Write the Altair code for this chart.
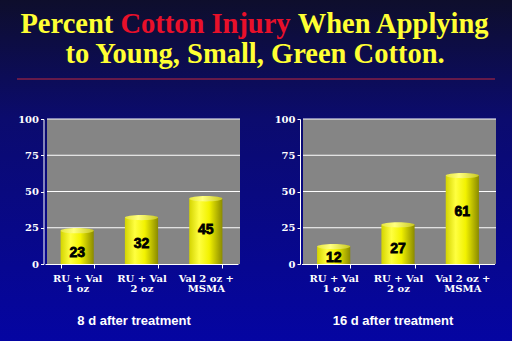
import altair as alt
import pandas as pd

# ---------------- data ----------------
categories = ["RU + Val\n1 oz", "RU + Val\n2 oz", "Val 2 oz +\nMSMA"]
injury_8d = [23, 32, 45]
injury_16d = [12, 27, 61]
y_ticks = [0, 25, 50, 75, 100]
grid_values = [25, 50, 75, 100]
panel_titles = ["8 d after treatment", "16 d after treatment"]
title_line1 = ["Percent", "Cotton Injury", "When Applying"]
title_line2 = "to Young, Small, Green Cotton."

W, H = 512, 341
YELLOW = "#ffff33"
RED = "#e8102a"
AXFONT = "DejaVu Serif"

Y_SCALE = alt.Scale(domain=[0, 100], range=[264, 119], nice=False, zero=True)

bar_fill = alt.Gradient(
    gradient="linear", x1=0, x2=1, y1=0, y2=0,
    stops=[
        alt.GradientStop(offset=0, color="#d4d400"),
        alt.GradientStop(offset=0.3, color="#ffff40"),
        alt.GradientStop(offset=0.6, color="#f2f200"),
        alt.GradientStop(offset=1, color="#8a8a00"),
    ],
)
cap_fill = alt.Gradient(
    gradient="linear", x1=0, x2=1, y1=0, y2=0,
    stops=[
        alt.GradientStop(offset=0, color="#e6e640"),
        alt.GradientStop(offset=0.4, color="#ffff80"),
        alt.GradientStop(offset=1, color="#c8c820"),
    ],
)
ELLIPSE = "M -1 0 A 1 0.16 0 1 0 1 0 A 1 0.16 0 1 0 -1 0 Z"

one = alt.Data(values=[{}])


def panel(values, x_range, axis_x, gray_x, title, title_x):
    df = pd.DataFrame({"cat": categories, "v": values})
    xs = alt.Scale(domain=categories, range=x_range, paddingInner=0.484, paddingOuter=0.242)
    x_axis = alt.Axis(
        orient="bottom", offset=264 - H, title=title, zindex=2,
        domainColor="white", domainWidth=1, tickColor="white", tickSize=4, tickBand="extent",
        labelColor="white", labelFont=AXFONT, labelFontWeight="bold", labelFontSize=10,
        labelAngle=0, labelPadding=5, labelLineHeight=10.5, labelExpr="split(datum.label, '\\n')",
        labelOverlap=False, labelFlush=False, labelLimit=0,
        titleColor="white", titleFont="Liberation Sans", titleFontWeight="bold", titleFontSize=13,
        titleX=title_x, titleY=60, titleBaseline="alphabetic", titleAlign="center",
        grid=False,
    )
    y_axis = alt.Axis(
        orient="left", offset=-axis_x, values=y_ticks, title=None, zindex=2,
        domainColor="white", domainWidth=1, tickColor="white", tickSize=3,
        labelColor="white", labelFont=AXFONT, labelFontWeight="bold", labelFontSize=10,
        labelPadding=2, grid=False,
    )
    X = dict(field="cat", type="nominal", scale=xs, axis=x_axis, sort=categories)
    gray = alt.Chart(one).mark_rect(color="#858585").encode(
        x=alt.value(gray_x[0]), x2=alt.value(gray_x[1]),
        y=alt.Y(datum=100, scale=Y_SCALE, axis=y_axis), y2=alt.Y2(datum=0),
    )
    grid = alt.Chart(pd.DataFrame({"t": grid_values})).mark_rule(color="white", strokeWidth=1).encode(
        y=alt.Y("t:Q", scale=Y_SCALE, axis=y_axis),
        x=alt.value(gray_x[0]), x2=alt.value(gray_x[1]),
    )
    bars = alt.Chart(df).mark_bar(fill=bar_fill).encode(
        x=alt.X(**X),
        y=alt.Y("v:Q", scale=Y_SCALE, axis=y_axis),
    )
    caps = alt.Chart(df).mark_point(shape=ELLIPSE, size=1100, filled=True, fill=cap_fill,
                                    opacity=1, strokeWidth=0).encode(
        x=alt.X(**X),
        y=alt.Y("v:Q", scale=Y_SCALE, axis=y_axis),
    )
    labels = alt.Chart(df).transform_calculate(
        lp="max(datum.v * 0.75 - 10, 4)"
    ).mark_text(font="Liberation Sans", fontWeight="bold", fontSize=14, color="black",
                stroke="black", strokeWidth=0.8, baseline="middle").encode(
        x=alt.X(**X),
        y=alt.Y("lp:Q", scale=Y_SCALE, axis=y_axis),
        text="v:Q",
    )
    return alt.layer(gray, grid, bars, caps, labels)


bg = alt.Chart(one).mark_rect(
    fill=alt.Gradient(gradient="linear", x1=0, x2=0, y1=0, y2=1, stops=[
        alt.GradientStop(offset=0, color="#0e0e2c"),
        alt.GradientStop(offset=0.35, color="#0b0b6e"),
        alt.GradientStop(offset=1, color="#0505a2"),
    ])
).encode(x=alt.value(0), x2=alt.value(W), y=alt.value(0), y2=alt.value(H))

tfont = dict(font="Liberation Serif", fontWeight="bold", fontSize=28.5, baseline="alphabetic")
t1a = alt.Chart(one).mark_text(color=YELLOW, align="right", **tfont).encode(
    x=alt.value(113.3), y=alt.value(33), text=alt.value(title_line1[0]))
t1b = alt.Chart(one).mark_text(color=RED, align="left", **tfont).encode(
    x=alt.value(120.4), y=alt.value(33), text=alt.value(title_line1[1]))
t1c = alt.Chart(one).mark_text(color=YELLOW, align="left", **tfont).encode(
    x=alt.value(297.7), y=alt.value(33), text=alt.value(title_line1[2]))
t2 = alt.Chart(one).mark_text(color=YELLOW, align="center", **tfont).encode(
    x=alt.value(255), y=alt.value(63), text=alt.value(title_line2))
redline = alt.Chart(one).mark_rule(color="#c0283c", strokeWidth=1).encode(
    x=alt.value(17), x2=alt.value(495), y=alt.value(79))

left = panel(injury_8d, [45, 238], 43.5, (47, 240), panel_titles[0], 133.5)
right = panel(injury_16d, [301.5, 494.5], 300, (303, 496), panel_titles[1], 392.5)

chart = alt.layer(bg, t1a, t1b, t1c, t2, redline, left, right).resolve_scale(
    x="independent", y="independent"
).properties(
    width=W, height=H, padding=0, autosize=alt.AutoSizeParams(type="none"),
    background="#0a0a60",
).configure_view(stroke=None)

chart.save("out.html", embed_options={"renderer": "svg", "actions": False})
